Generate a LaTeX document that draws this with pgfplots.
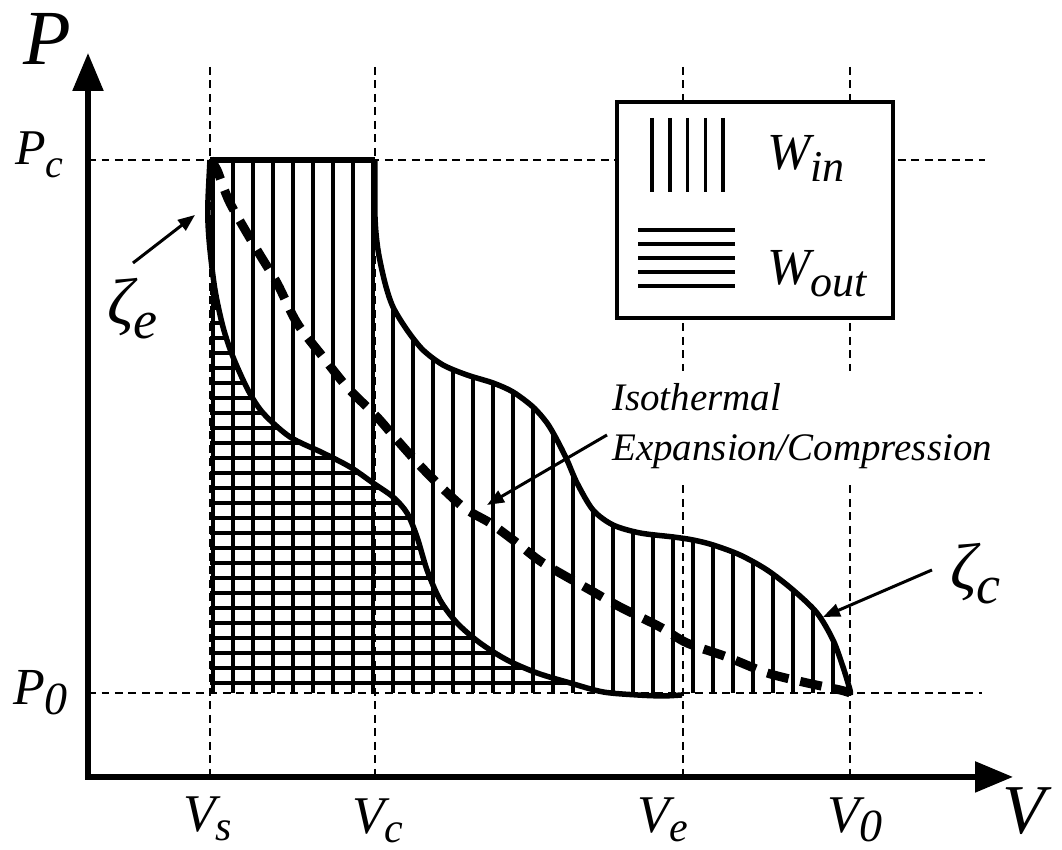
\documentclass[border=0pt]{standalone}
\usepackage{fontspec}
\setmainfont{Liberation Serif}[ItalicFont={Liberation Serif Italic}]
\usepackage{pgfplots}
\pgfplotsset{compat=1.18}
\usetikzlibrary{arrows.meta}

% italic symbol with a lowered subscript: size, symbol, subsize, subscript, drop
\newcommand{\Sym}[5]{{\fontsize{#1}{#1}\selectfont\itshape #2\raisebox{-#5}{\fontsize{#3}{#3}\selectfont #4}}}

\begin{document}
\begin{tikzpicture}
\begin{axis}[
  scale only axis, width=1062pt, height=850pt,
  xmin=-210, xmax=852, ymin=-157, ymax=693,
  hide axis, clip=false]
\path (-210,-157) rectangle (852,693);

% thin reference lines at V_s, V_c, V_e, V_0 and P_c, P_0
\draw[line width=2pt, dash pattern=on 8pt off 5.5pt] (0,626) -- (0,-84);
\draw[line width=2pt, dash pattern=on 8pt off 5.5pt] (165,626) -- (165,-84);
\draw[line width=2pt, dash pattern=on 8pt off 5.5pt] (472.5,626) -- (472.5,-84);
\draw[line width=2pt, dash pattern=on 8pt off 5.5pt] (640,626) -- (640,-84);
\draw[line width=2pt, dash pattern=on 8pt off 5.5pt] (-122,533) -- (775,533);
\draw[line width=2pt, dash pattern=on 8pt off 5.5pt] (-122,0) -- (772,0);

% W_in hatching: vertical lines from P_0 up to the upper boundary
\addplot[ycomb, line width=4.3pt, mark=none] coordinates {
  (3,533) (23,533) (43,533) (63,533) (83,533) (103,533) (123,533) (143,533)
  (163,533) (183,386) (203,355) (223,336) (243,324) (263,316) (283,310)
  (303,301) (323,286) (343,260) (363,219) (383,183) (403,168) (423,162)
  (443,158) (463,156) (483,153) (503,148) (523,141) (543,131) (563,118)
  (583,103) (603,84) (623,53)};

% W_out hatching: horizontal lines from V_s to the lower boundary
\addplot[xcomb, line width=3.8pt, mark=none] coordinates {
  (360,10) (316,25) (286,40) (264,55) (247,70) (236,85) (227,100) (221,115)
  (215,130) (210,145) (205,160) (199,175) (188,190) (170,205) (149,220)
  (123,235) (92,250) (70,265) (53,280) (43,295) (35,310) (28,325) (22,340)
  (17,355) (12,370) (9,385) (5,400)};

% constant-pressure segment at P_c
\addplot[line width=5.5pt, mark=none] coordinates {(0,533) (165,533)};

% compression path zeta_c
\addplot[line width=5.5pt, mark=none, smooth, tension=0.5] coordinates {
  (165,533) (165,476) (168,443) (175,410) (183,386) (197,363) (213,343)
  (233,328) (257,318) (283,310) (303,301) (323,286) (337,270) (347,253)
  (357,233) (367,210) (383,183) (403,168) (430,160) (463,156) (483,153)
  (503,148) (530,138) (557,123) (583,103) (607,80) (623,53) (633,26)
  (640,3) (640,0)};

% expansion path zeta_e
\addplot[line width=5.5pt, mark=none, smooth, tension=0.5] coordinates {
  (0,533) (-2,493) (-2,470) (0,443) (5,403) (13,366) (23,336) (38,303)
  (53,280) (80,256) (113,240) (140,226) (163,210) (183,196) (197,180)
  (207,156) (217,123) (230,93) (247,70) (270,50) (297,33) (327,20)
  (360,10) (393,1) (427,-2) (453,-3) (472,-2)};

% isothermal expansion/compression
\addplot[line width=9pt, mark=none, smooth, tension=0.5,
  dash pattern=on 22pt off 12pt] coordinates {
  (0,533) (7,523) (20,490) (47,443) (67,410) (87,370) (113,336) (137,306)
  (167,276) (187,253) (217,220) (253,186) (280,170) (307,150) (333,130)
  (380,103) (410,86) (450,66) (477,50) (517,36) (557,20) (597,10)
  (630,3) (640,0)};

% axes
\draw[line width=5.5pt, line join=miter,
  {Triangle[length=38pt,width=30pt]}-{Triangle[length=38pt,width=30pt]}]
  (-122,640) -- (-122,-84) -- (803,-84);

% key
\draw[line width=4pt, fill=white] (407,591) rectangle (683,375);
\draw[line width=3.5pt] (442,575) -- (442,501);
\draw[line width=3.5pt] (459.75,575) -- (459.75,501);
\draw[line width=3.5pt] (477.5,575) -- (477.5,501);
\draw[line width=3.5pt] (495.25,575) -- (495.25,501);
\draw[line width=3.5pt] (513,575) -- (513,501);
\draw[line width=3.5pt] (428,463) -- (525,463);
\draw[line width=3.5pt] (428,449) -- (525,449);
\draw[line width=3.5pt] (428,435) -- (525,435);
\draw[line width=3.5pt] (428,421) -- (525,421);
\draw[line width=3.5pt] (428,407) -- (525,407);
\node[anchor=base west, inner sep=0pt] at (557,523) {\Sym{52pt}{W}{44pt}{in}{12pt}};
\node[anchor=base west, inner sep=0pt] at (557,408) {\Sym{52pt}{W}{44pt}{out}{12pt}};

% axis names and levels
\node[anchor=base west, inner sep=0pt] at (-187,628) {\fontsize{78pt}{78pt}\selectfont\itshape P};
\node[anchor=base west, inner sep=0pt] at (792,-141) {\fontsize{70pt}{70pt}\selectfont\itshape V};
\node[anchor=base west, inner sep=0pt] at (-195,528) {\Sym{50pt}{P}{40pt}{c}{13pt}};
\node[anchor=base west, inner sep=0pt] at (-197,-12) {\Sym{52pt}{P}{46pt}{0}{10pt}};
\node[anchor=base west, inner sep=0pt] at (-27,-139) {\Sym{53pt}{V}{42pt}{s}{9pt}};
\node[anchor=base west, inner sep=0pt] at (142,-141) {\Sym{53pt}{V}{42pt}{c}{9pt}};
\node[anchor=base west, inner sep=0pt] at (427,-140) {\Sym{53pt}{V}{42pt}{e}{9pt}};
\node[anchor=base west, inner sep=0pt] at (617,-140) {\Sym{53pt}{V}{46pt}{0}{9pt}};

% path labels
\node[anchor=base west, inner sep=0pt] at (-103,368) {\Sym{66pt}{ζ}{54pt}{e}{14pt}};
\node[anchor=base west, inner sep=0pt] at (740,103) {\Sym{66pt}{ζ}{54pt}{c}{14pt}};
\node[anchor=north west, fill=white, inner xsep=3pt, inner ysep=12pt, align=left,
  font=\fontsize{39pt}{50pt}\selectfont\itshape] at (399,322)
  {Isothermal\\Expansion/Compression};

% pointers
\draw[line width=3pt, -{Triangle[length=17pt,width=13pt]}] (-77,430) -- (-15,478);
\draw[line width=3pt, -{Triangle[length=17pt,width=13pt]}] (722,123) -- (613,76);
\draw[line width=3pt, -{Triangle[length=17pt,width=13pt]}] (397,258) -- (277,188);
\end{axis}
\end{tikzpicture}
\end{document}
